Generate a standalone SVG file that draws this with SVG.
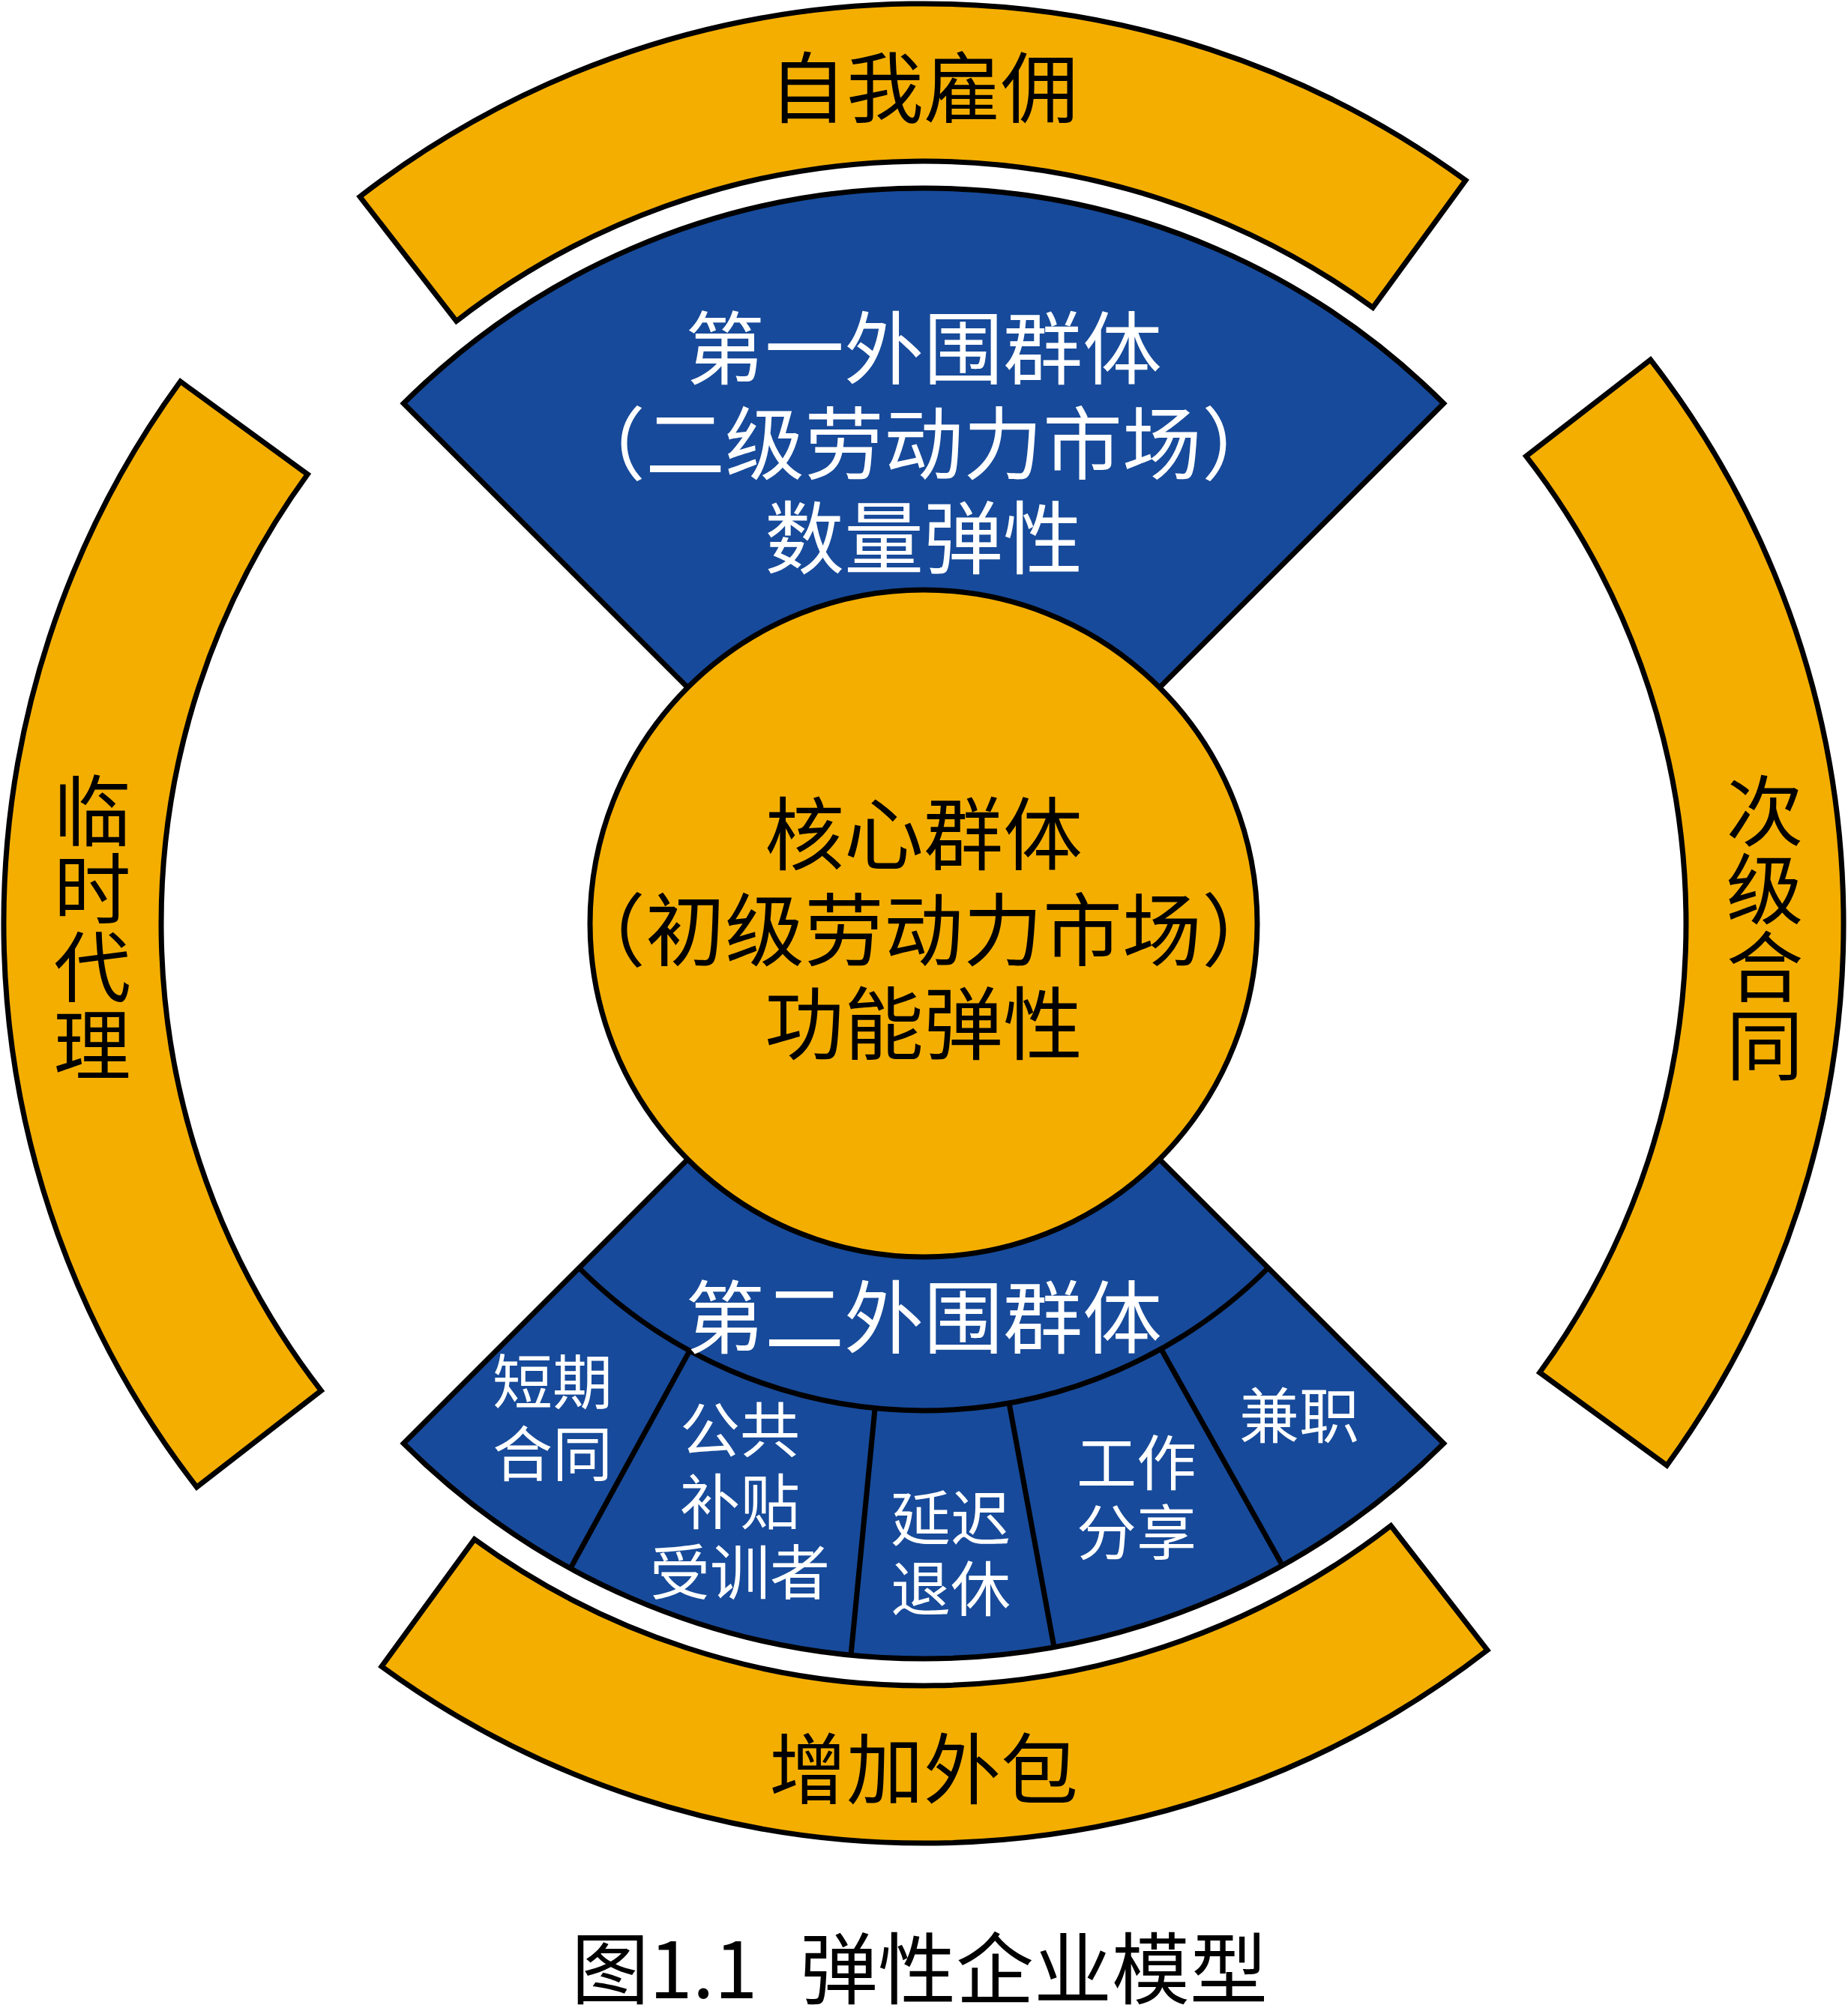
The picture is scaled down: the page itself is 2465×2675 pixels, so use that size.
<svg xmlns="http://www.w3.org/2000/svg" width="2465" height="2675" viewBox="0 0 2465 2675">
<defs>
<style>
.gold{fill:#F4AE00;stroke:#000;stroke-width:7;stroke-linejoin:miter}
.blue{fill:#174A9A;stroke:#000;stroke-width:7;stroke-linejoin:miter}
.line{fill:none;stroke:#000;stroke-width:7}
text{font-family:"Noto Sans CJK SC","Noto Sans",sans-serif;text-anchor:middle;dominant-baseline:central}
.w{fill:#fff}
.k{fill:#000}
.big{font-size:106px}
.ring{font-size:103px}
.small{font-size:80px}
</style>
<path id="ringShape" d="M 480.0 262.4 A 1227 1227 0 0 1 1955.0 240.6 L 1831.2 410.3 A 1017 1017 0 0 0 608.7 428.4 Z"/>
</defs>
<rect width="2465" height="2675" fill="#fff"/>

<g id="ring-top">
<use href="#ringShape" class="gold"/>
<text class="k ring" x="1232" y="111">自我雇佣</text>
</g>
<g id="ring-right">
<use href="#ringShape" class="gold" transform="rotate(90 1232 1232)"/>
<text class="k ring" x="2354" y="1076">次</text>
<text class="k ring" x="2354" y="1180">级</text>
<text class="k ring" x="2354" y="1284">合</text>
<text class="k ring" x="2354" y="1388">同</text>
</g>
<g id="ring-bottom">
<use href="#ringShape" class="gold" transform="rotate(180 1232 1232)"/>
<text class="k ring" x="1232" y="2354">增加外包</text>
</g>
<g id="ring-left">
<use href="#ringShape" class="gold" transform="rotate(270 1232 1232)"/>
<text class="k ring" x="123" y="1076">临</text>
<text class="k ring" x="123" y="1180">时</text>
<text class="k ring" x="123" y="1284">代</text>
<text class="k ring" x="123" y="1388">理</text>
</g>

<g id="first-periphery">
<path class="blue" d="M 1232 1232 L 538.3 538.3 A 981 981 0 0 1 1925.7 538.3 Z"/>
<text class="w big" x="1232" y="458">第一外围群体</text>
<text class="w big" x="1232" y="585">（二级劳动力市场）</text>
<text class="w big" x="1232" y="711">数量弹性</text>
</g>

<g id="second-periphery">
<path class="blue" d="M 1232 1232 L 538.3 1925.7 A 981 981 0 0 0 1925.7 1925.7 Z"/>
<path class="line" d="M 772.4 1691.6 A 650 650 0 0 0 1691.6 1691.6"/>
<text class="w big" x="1232" y="1751">第二外围群体</text>
</g>

<g id="connectors">
<line class="line" x1="919.9" y1="1802.1" x2="760.9" y2="2092.4"/>
<line class="line" x1="1167.1" y1="1878.8" x2="1135.0" y2="2208.2"/>
<line class="line" x1="1346.0" y1="1871.9" x2="1406.0" y2="2197.5"/>
<line class="line" x1="1548.9" y1="1800.0" x2="1710.6" y2="2088.6"/>
</g>

<g id="cell-short-contract">
<text class="w small" x="737" y="1838">短期</text>
<text class="w small" x="737" y="1934">合同</text>
</g>
<g id="cell-public-subsidy">
<text class="w small" x="987" y="1902">公共</text>
<text class="w small" x="987" y="1998">补贴</text>
<text class="w small" x="987" y="2092">受训者</text>
</g>
<g id="cell-delayed-retirement">
<text class="w small" x="1268" y="2020">延迟</text>
<text class="w small" x="1268" y="2114">退休</text>
</g>
<g id="cell-job-sharing">
<text class="w small" x="1516" y="1946">工作</text>
<text class="w small" x="1516" y="2039">分享</text>
</g>
<g id="cell-part-time">
<text class="w small" x="1733" y="1883">兼职</text>
</g>

<g id="core">
<circle cx="1232" cy="1232" r="445" class="gold"/>
<text class="k big" x="1232" y="1106">核心群体</text>
<text class="k big" x="1232" y="1234">（初级劳动力市场）</text>
<text class="k big" x="1232" y="1359">功能弹性</text>
</g>

<g id="caption">
<text class="k" style="font-size:104px;text-anchor:start" y="2620"><tspan x="762">图1.1</tspan><tspan x="1067">弹性企业模型</tspan></text>
</g>
</svg>
